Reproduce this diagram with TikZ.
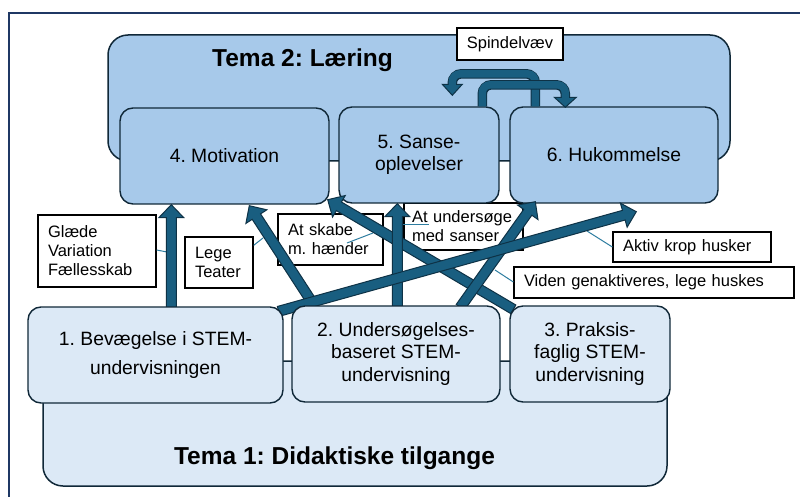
\documentclass[tikz,border=0pt]{standalone}
\usepackage{fontspec}
\setmainfont{Liberation Sans}
\frenchspacing
\usetikzlibrary{calc}
\pgfdeclarelayer{back}
\pgfdeclarelayer{mid}
\pgfsetlayers{back,mid,main}
\definecolor{framec}{RGB}{31,56,100}
\definecolor{bord}{RGB}{16,40,56}
\definecolor{blueA}{RGB}{167,201,234}
\definecolor{blueB}{RGB}{220,233,246}
\definecolor{arrF}{RGB}{25,94,128}
\definecolor{arrD}{RGB}{14,50,70}
\definecolor{thinc}{RGB}{46,125,160}
\newcommand{\myblockarrow}[2]{%
  \coordinate (bh) at ($(#2)!13pt!(#1)$);
  \filldraw[barrow] ($(#1)!5pt!90:(#2)$) -- ($(bh)!5pt!90:(#2)$) -- ($(bh)!12.5pt!90:(#2)$) -- (#2) -- ($(bh)!12.5pt!-90:(#2)$) -- ($(bh)!5pt!-90:(#2)$) -- ($(#1)!5pt!-90:(#2)$) -- cycle;}
\tikzset{
  temabox/.style={rectangle, draw=bord, line width=1.5pt, rounded corners=20pt, inner sep=0pt},
  bigbox/.style={rectangle, draw=bord, line width=1.4pt, rounded corners=13pt, inner sep=0pt, align=center, minimum height=96pt, font=\fontsize{19.3}{22.5}\selectfont},
  upperbox/.style={bigbox, fill=blueA},
  lowerbox/.style={bigbox, fill=blueB},
  lbl/.style={rectangle, draw=black, line width=1.3pt, fill=white, align=left, inner xsep=10pt, inner ysep=0pt, font=\fontsize{16.5}{19}\selectfont},
  thinline/.style={draw=thinc, line width=1pt},
  barrow/.style={fill=arrF, draw=arrD, line width=1pt, line join=miter},
  titletext/.style={font=\bfseries\fontsize{24.5}{28}\selectfont, inner sep=0pt},
  ushaftout/.style={draw=arrD, line width=9.5pt, rounded corners=9pt},
  ushaftin/.style={draw=arrF, line width=7.5pt, rounded corners=8pt},
}
\begin{document}
\begin{tikzpicture}[x=1pt,y=-1pt]
\useasboundingbox (0,0) rectangle (800,497);

% nodes 1-3 (top layer)
\node[lowerbox, minimum width=255pt] (b1) at (155.5,355) {1. Bevægelse i STEM-\\[7pt]undervisningen};
\node[lowerbox, minimum width=208pt] (b2) at (396,354) {2. Undersøgelses-\\baseret STEM-\\undervisning};
\node[lowerbox, minimum width=160pt] (b3) at (590,354) {3. Praksis-\\faglig STEM-\\undervisning};

\begin{pgfonlayer}{back}
  \begin{scope}
  \clip (0,0) rectangle (800,497);
  \fill[white] (0,0) rectangle (800,497);
  \draw[framec, line width=1.5pt] (9,13) rectangle (830,530);
  \end{scope}
  \node[temabox, fill=blueA, minimum width=622pt, minimum height=126pt] (tema2) at (419,98) {};
  \node[titletext] (t2title) at (302.5,60) {Tema 2: Læring};
  \node[temabox, fill=blueB, minimum width=624pt, minimum height=125pt] (tema1) at (355,423.5) {};
  \node[titletext] (t1title) at (334.5,458) {Tema 1: Didaktiske tilgange};
  % label boxes
  \node[lbl, text width=98pt, minimum height=72pt] (glaede) at (97,251) {Glæde\\Variation\\Fællesskab};
  \node[lbl, text width=48pt, minimum height=51pt] (lege) at (219,262.5) {Lege\\Teater};
  \node[lbl, text width=85pt, minimum height=51pt] (skabe) at (330.5,239.5) {At skabe\\m. hænder};
  \node[lbl, inner xsep=8pt, text width=103pt, minimum height=47pt] (unders) at (463.5,226.5) {At undersøge\\med sanser};
  \node[lbl, text width=138pt, minimum height=30pt] (aktiv) at (692,247) {Aktiv krop husker};
  \node[lbl, text width=260pt, minimum height=31pt] (viden) at (654,282.5) {Viden genaktiveres, lege huskes};
  \node[lbl, align=center, inner xsep=0pt, minimum width=106pt, minimum height=32pt] (spind) at (510,44) {Spindelvæv};
  % thin connectors
  \coordinate (c1) at (167,252);
  \coordinate (c2) at (263,238);
  \coordinate (c3) at (373,233);
  \coordinate (c4) at (429,224);
  \coordinate (c5) at (587,231);
  \coordinate (c6) at (495,270);
  \draw[thinline] ($(glaede.east)+(0,-1)$) -- (c1);
  \draw[thinline] ($(lege.north east)+(0,9)$) -- (c2);
  \draw[thinline] ($(skabe.center)+(16.5,3.5)$) -- (c3);
  \draw[thinline] ($(unders.west)+(-0.5,-2.5)$) -- (c4);
  \draw[thinline] ($(aktiv.west)+(0,0)$) -- (c5);
  \draw[thinline] ($(viden.west)+(0,-0.5)$) -- (c6);
  % nodes 4-6
  \node[upperbox, minimum width=209pt] (b4) at (224.5,156) {4. Motivation};
  \node[upperbox, minimum width=160pt] (b5) at (419,155) {5. Sanse-\\oplevelser};
  \node[upperbox, minimum width=208pt] (b6) at (614,155) {6. Hukommelse};
\end{pgfonlayer}

\begin{pgfonlayer}{mid}
  \coordinate (a1s) at ($(b1.north west)+(144,3)$);
  \coordinate (a1e) at ($(b4.south west)+(52,0)$);
  \coordinate (a2s) at ($(b2.north west)+(24,2)$);
  \coordinate (a2e) at ($(b4.south west)+(130,1)$);
  \coordinate (a3s) at ($(b3.north west)+(4,4)$);
  \coordinate (a3e) at ($(b4.south east)+(-2,-5)$);
  \coordinate (a4s) at ($(b1.north east)+(-5,5)$);
  \coordinate (a4e) at ($(b6.south west)+(127,8)$);
  \coordinate (a5s) at ($(b2.north west)+(106,2)$);
  \coordinate (a5e) at ($(b5.south west)+(59,0)$);
  \coordinate (a6s) at ($(b2.north west)+(169,2)$);
  \coordinate (a6e) at ($(b6.south west)+(26,-2)$);
  \myblockarrow{a3s}{a3e}
  \myblockarrow{a2s}{a2e}
  \myblockarrow{a6s}{a6e}
  \myblockarrow{a5s}{a5e}
  \myblockarrow{a1s}{a1e}
  \myblockarrow{a4s}{a4e}
  % Spindelvaev loop arrows
  \coordinate (spA) at ($(b6.north west)+(26,0)$);
  \coordinate (spAt) at ($(b5.north west)+(114,-11)$);
  \coordinate (spB) at ($(b5.north west)+(144,0)$);
  \coordinate (spBt) at ($(b6.north west)+(56,1)$);
  \draw[ushaftout] (spA) |- ($(spAt)+(0,-21.5)$) -- ($(spAt)+(0,-8)$);
  \draw[ushaftin] (spA) |- ($(spAt)+(0,-21.5)$) -- ($(spAt)+(0,-8)$);
  \filldraw[barrow] ($(spAt)+(-3.75,-11)$) -- ($(spAt)+(-10,-11)$) -- (spAt) -- ($(spAt)+(10,-11)$) -- ($(spAt)+(3.75,-11)$);
  \draw[ushaftout] (spB) |- ($(spBt)+(0,-22.5)$) -- ($(spBt)+(0,-7)$);
  \draw[ushaftin] (spB) |- ($(spBt)+(0,-22.5)$) -- ($(spBt)+(0,-7)$);
  \filldraw[barrow] ($(spBt)+(-3.75,-10)$) -- ($(spBt)+(-11,-10)$) -- (spBt) -- ($(spBt)+(11,-10)$) -- ($(spBt)+(3.75,-10)$);
\end{pgfonlayer}
\end{tikzpicture}
\end{document}
